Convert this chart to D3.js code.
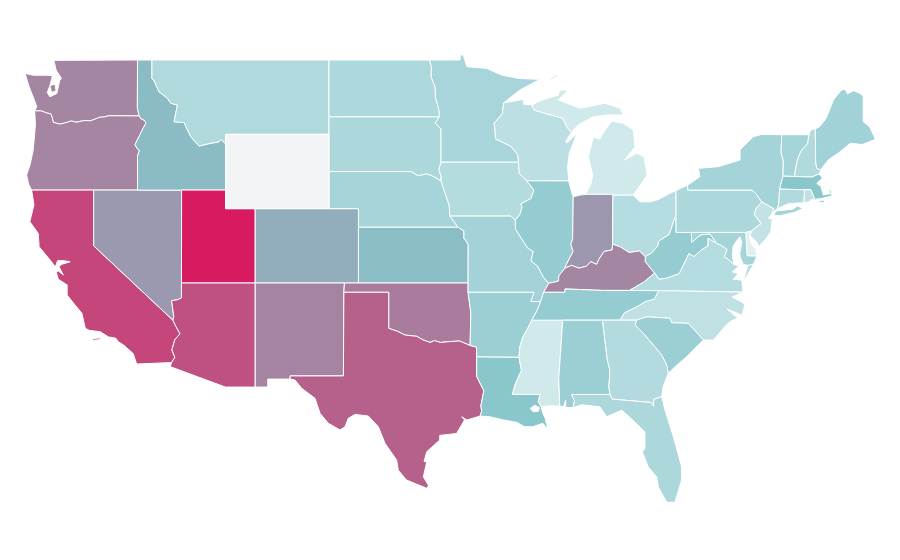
<!DOCTYPE html>
<html><head><meta charset="utf-8">
<script src="https://cdn.jsdelivr.net/npm/d3@7"></script>
<style>html,body{margin:0;background:#fff}svg{display:block}</style>
</head><body><svg id="map" width="900" height="560"></svg>
<script>
// Chart values
const stateNames=["Washington","Oregon","California","Nevada","Idaho","Utah","Arizona","Montana","Colorado","New Mexico","North Dakota","South Dakota","Nebraska","Kansas","Oklahoma","Texas","Minnesota","Iowa","Missouri","Arkansas","Louisiana","Wisconsin","Illinois","Mississippi","Michigan","Indiana","Kentucky","Tennessee","Alabama","Ohio","West Virginia","Virginia","North Carolina","South Carolina","Georgia","Florida","Pennsylvania","New York","Vermont","New Hampshire","Maine","Massachusetts","Connecticut","Rhode Island","New Jersey","Delaware","Maryland","Wyoming"];
const stateValues=[56,56.5,82.5,48,34,100,77.6,17.6,40,56.6,18.2,18.5,20.6,33.5,60,71.3,20,16.1,21.2,23.7,28.8,13.7,25.8,7.6,7.6,49,56,25.8,23.7,15.8,25.8,15.8,12.8,23.7,16.4,18.5,18.5,20.9,20.3,17.3,21.8,28.8,17,12.5,11.9,2.8,20.3,0];
const colorDomain=[0,1,30,100];
const colorRange=["#f3f4f6","#e6f4f5","#86c5cb","#d81b60"];
// Border lines in [longitude, latitude]
const borders={
wa_coast:[[-124,46.27],[-123.86,46.49],[-124.05,46.9],[-124.2,47.2],[-124.4,47.6],[-124.65,48.28],[-124.1,48.18],[-123.2,48.18],[-122.8,48.15],[-122.85,48],[-122.95,47.65],[-123.15,47.25],[-122.97,47.02],[-122.5,47.2],[-122.3,47.92],[-122.18,48],[-122.55,48.46],[-122.7,48.98]],
wa_kitsap:[[-122.98,47.62],[-122.62,47.7],[-122.55,47.35],[-122.85,47.25]],
wa_can:[[-122.7,48.98],[-117.03,49]],
wa_id:[[-117.03,49],[-117.04,46.42],[-116.92,45.99]],
wa_or:[[-116.92,45.99],[-119,46],[-119.3,45.93],[-119.6,45.92],[-120.2,45.73],[-120.65,45.74],[-121.2,45.65],[-121.5,45.72],[-122,45.6],[-122.3,45.55],[-122.75,45.65],[-122.8,45.87],[-122.9,46.1],[-123.2,46.15],[-123.5,46.25],[-124,46.27]],
or_coast:[[-124,46.27],[-123.95,45.5],[-124.1,44.16],[-124.3,43.4],[-124.55,42.8],[-124.4,42.3],[-124.21,42]],
or_id:[[-116.92,45.99],[-116.78,45.83],[-116.55,45.75],[-116.46,45.6],[-116.67,45.3],[-116.85,45],[-117.2,44.45],[-117.05,44.23],[-116.9,44.15],[-117.03,43.83],[-117.03,42]],
or_ca:[[-124.21,42],[-120,42]],
or_nv:[[-120,42],[-117.03,42]],
id_can:[[-117.03,49],[-116.05,49]],
id_mt:[[-116.05,49],[-116.05,48],[-115.93,47.92],[-115.58,47.3],[-115,46.94],[-114.77,46.67],[-114.32,46.58],[-114.44,46.13],[-114.55,45.68],[-113.87,45.63],[-113.42,44.87],[-112.85,44.37],[-112.3,44.48],[-111.5,44.6],[-111.35,44.73],[-111.05,44.48]],
id_wy:[[-111.05,44.48],[-111.05,42]],
id_ut:[[-111.05,42],[-114.04,42]],
id_nv:[[-114.04,42],[-117.03,42]],
ca_coast:[[-124.21,42],[-124.05,41.2],[-124.33,40.3],[-123.76,39.67],[-123.7,38.95],[-122.96,38.24],[-122.6,37.87],[-122.45,38.2],[-122,38.2],[-121.6,38.14],[-122.2,38],[-122.35,37.87],[-122.06,37.43],[-122.4,37.65],[-122.55,37.6],[-122.4,37.2],[-121.9,36.95],[-121.8,36.9],[-121.8,36.35],[-121.3,35.85],[-120.8,35.37],[-120.57,34.56],[-120.3,34.45],[-119.56,34.38],[-119,34.1],[-118.5,34.03],[-118.33,33.84],[-117.95,33.65],[-117.32,33.2],[-117.09,32.64]],
ca_mx:[[-117.09,32.64],[-114.72,32.72]],
ca_az:[[-114.72,32.72],[-114.5,33],[-114.7,33.4],[-114.5,33.95],[-114.15,34.27],[-114.45,34.7],[-114.63,35]],
ca_nv:[[-114.63,35],[-120,39],[-120,42]],
nv_az:[[-114.63,35],[-114.57,35.2],[-114.72,36.05],[-114.3,36.1],[-114.05,36.2],[-114.05,37]],
nv_ut:[[-114.05,37],[-114.04,42]],
ut_wy:[[-111.05,42],[-111.05,41],[-109.05,41]],
ut_co:[[-109.05,41],[-109.05,37]],
ut_az:[[-114.05,37],[-109.05,37]],
az_nm:[[-109.05,37],[-109.05,31.4]],
az_mx:[[-114.72,32.72],[-114.81,32.5],[-111.07,31.4],[-109.05,31.4]],
wy_mt:[[-111.05,44.48],[-111.05,45],[-104.05,45]],
wy_sd:[[-104.05,45],[-104.05,43]],
wy_ne:[[-104.05,43],[-104.05,41]],
wy_co:[[-109.05,41],[-104.05,41]],
co_ne:[[-104.05,41],[-102.05,41],[-102.05,40]],
co_ks:[[-102.05,40],[-102.05,37]],
co_ok:[[-102.05,37],[-103,37]],
co_nm:[[-103,37],[-109.05,37]],
mt_can:[[-116.05,49],[-104.05,49]],
mt_nd:[[-104.05,49],[-104.05,45.94]],
mt_sd:[[-104.05,45.94],[-104.05,45]],
nd_can:[[-104.05,49],[-97.23,49]],
nd_mn:[[-97.23,49],[-97.1,48.6],[-97.13,48.1],[-96.85,47.55],[-96.83,47],[-96.6,46.35],[-96.56,45.94]],
nd_sd:[[-104.05,45.94],[-96.56,45.94]],
sd_mn:[[-96.56,45.94],[-96.85,45.6],[-96.45,45.3],[-96.45,43.5]],
sd_ia:[[-96.45,43.5],[-96.6,43.1],[-96.45,42.75],[-96.45,42.49]],
sd_ne:[[-104.05,43],[-98.5,43],[-98,42.77],[-97.4,42.87],[-96.95,42.72],[-96.45,42.49]],
ne_ia:[[-96.45,42.49],[-96.25,42],[-96.1,41.65],[-95.9,41.2],[-95.85,40.6]],
ne_mo:[[-95.85,40.6],[-95.3,40]],
ne_ks:[[-102.05,40],[-95.3,40]],
ks_ok:[[-102.05,37],[-94.62,37]],
ks_mo:[[-95.3,40],[-94.9,39.8],[-94.9,39.4],[-94.61,39.1],[-94.62,37]],
nm_mx:[[-109.05,31.4],[-108.2,31.4],[-108.2,31.83],[-106.68,31.83]],
nm_tx:[[-106.68,31.83],[-106.68,32],[-103.07,32],[-103.04,36.5]],
nm_ok:[[-103.04,36.5],[-103,37]],
tx_coast:[[-106.68,31.83],[-106.35,31.78],[-105.9,31.33],[-105,30.8],[-104.65,29.98],[-104.09,29.45],[-103.3,29.09],[-102.96,29.26],[-102.74,29.72],[-102.28,29.93],[-101.38,29.84],[-100.7,29.26],[-100.25,28.37],[-99.46,27.47],[-99.35,26.93],[-98.8,26.4],[-97.42,25.95],[-97.3,26.1],[-97.65,26.57],[-97.42,27.38],[-97.6,27.4],[-97.42,27.92],[-96.54,28.55],[-96.54,28.8],[-95.4,28.9],[-94.86,29.63],[-95.05,29.8],[-94.7,29.63],[-93.8,29.84]],
tx_la:[[-93.8,29.84],[-93.7,30.1],[-93.75,30.4],[-93.55,31.2],[-94.04,31.99],[-94.04,33.02]],
tx_ar:[[-94.04,33.02],[-94.04,33.55],[-94.48,33.64]],
tx_ok:[[-94.48,33.64],[-95.2,33.88],[-95.8,33.85],[-96.5,33.8],[-96.9,33.9],[-97.2,33.8],[-97.7,33.95],[-98.1,34.13],[-98.9,34.2],[-99.4,34.4],[-100,34.56],[-100,36.5],[-103.04,36.5]],
ok_mo:[[-94.62,37],[-94.62,36.5]],
ok_ar:[[-94.62,36.5],[-94.43,35.4],[-94.48,33.64]],
mn_north:[[-97.23,49],[-95.15,49],[-95.15,49.27],[-94.95,49.27],[-94.7,48.64],[-93.36,48.55],[-92.34,48.19],[-91.1,48],[-89.74,47.96],[-91.1,47.39],[-92.2,46.7]],
mn_wi:[[-92.2,46.7],[-92.3,46.1],[-92.85,45.6],[-92.8,45.3],[-92.75,44.75],[-91.7,44.35],[-91.25,43.9],[-91.2,43.5]],
mn_ia:[[-96.45,43.5],[-91.2,43.5]],
ia_wi:[[-91.2,43.5],[-91.15,42.9],[-90.65,42.5]],
ia_il:[[-90.65,42.5],[-90.15,42],[-90.35,41.55],[-91.05,41.25],[-90.95,41.1],[-91.1,40.7],[-91.42,40.38]],
ia_mo:[[-95.85,40.6],[-91.72,40.6],[-91.42,40.38]],
wi_sup:[[-92.2,46.7],[-90.87,46.88],[-90.87,46.62],[-90.3,46.58]],
wi_mi:[[-90.3,46.58],[-90.12,46.3],[-88.2,45.86],[-87.86,45.32],[-87.6,45.14]],
wi_lake:[[-87.6,45.14],[-88,44.6],[-87.9,44.55],[-87.25,45.05],[-87.5,44.5],[-87.76,43.98],[-87.87,43.26],[-87.8,42.49]],
wi_il:[[-90.65,42.5],[-87.8,42.49]],
il_lake:[[-87.8,42.49],[-87.55,41.75],[-87.49,41.64]],
il_in:[[-87.49,41.64],[-87.53,39.35],[-87.65,39.1],[-87.5,38.7],[-87.95,38],[-88.05,37.8]],
il_ky:[[-88.05,37.8],[-88.45,37.4],[-88.5,37.1],[-89.15,36.98]],
il_mo:[[-89.15,36.98],[-89.5,37.3],[-89.9,37.9],[-90.35,38.2],[-90.2,38.7],[-90.6,38.9],[-91.4,39.9],[-91.42,40.38]],
mo_ky:[[-89.15,36.98],[-89.5,36.5]],
mo_tn:[[-89.5,36.5],[-89.7,36]],
mo_ar:[[-94.62,36.5],[-90.15,36.5],[-90.37,36],[-89.7,36]],
ar_tn:[[-89.7,36],[-89.95,35.5],[-90.3,35]],
ar_ms:[[-90.3,35],[-90.55,34.6],[-90.9,34.1],[-91.1,33.6],[-91.17,33]],
ar_la:[[-94.04,33.02],[-91.17,33]],
la_ms:[[-91.17,33],[-91,32.3],[-91.4,31.6],[-91.62,31],[-89.74,31],[-89.86,30.61],[-89.66,30.34]],
la_coast:[[-89.66,30.34],[-89.55,29.99],[-89.4,29.75],[-89.2,29.1],[-89.55,29.45],[-90.23,29.27],[-90.8,29.27],[-91.3,29.5],[-92.23,29.63],[-93.13,29.8],[-93.8,29.84]],
la_lake:[[-90.4,30.25],[-90.1,30.42],[-89.78,30.3],[-89.85,30.1],[-90.2,30.07]],
ms_coast:[[-88.4,30.37],[-89,30.4],[-89.66,30.34]],
ms_al:[[-88.4,30.37],[-88.47,31.9],[-88.2,35]],
ms_tn:[[-88.2,35],[-90.3,35]],
al_coast:[[-87.5,30.3],[-88,30.3],[-88,30.7],[-88.15,30.35],[-88.4,30.37]],
al_fl:[[-85,31],[-87.6,31],[-87.4,30.65],[-87.5,30.3]],
al_ga:[[-85,31],[-85.07,31.42],[-85,32.3],[-85.18,32.87],[-85.5,35]],
al_tn:[[-85.5,35],[-88.2,35]],
fl_coast:[[-87.5,30.3],[-86.92,30.45],[-85.68,30.34],[-85.22,29.8],[-84.2,30.16],[-83.42,29.6],[-82.63,28.99],[-82.63,28.09],[-82.8,27.92],[-82.4,27.1],[-81.83,26.57],[-81.72,26.03],[-81.15,25.2],[-80.6,25.2],[-80.14,26.4],[-80.14,27.1],[-80.7,28.73],[-81.27,30.16],[-81.49,30.88]],
fl_ga:[[-85,31],[-84.84,30.75],[-82.2,30.57],[-82.05,30.37],[-82.02,30.75],[-81.49,30.88]],
ga_coast:[[-81.49,30.88],[-81.39,31.42],[-81.05,32.14]],
ga_sc:[[-81.05,32.14],[-81.15,32.58],[-81.49,33.12],[-82.06,33.66],[-82.74,34.29],[-83.3,34.74],[-83.19,35]],
ga_nc:[[-83.19,35],[-84.32,35]],
ga_tn:[[-84.32,35],[-85.5,35]],
sc_coast:[[-78.66,33.93],[-79.25,33.48],[-79.8,33.03],[-80.47,32.58],[-81.05,32.14]],
sc_nc:[[-78.66,33.93],[-79.69,34.83],[-80.82,34.86],[-80.93,35.1],[-82.5,35.18],[-83.19,35]],
nc_coast:[[-75.98,36.51],[-76.72,36.24],[-76.05,35.98],[-75.85,35.82],[-76.05,35.27],[-77.07,35.6],[-76.32,35.11],[-76.8,34.95],[-77.12,34.74],[-77.98,33.93],[-78.66,33.93]],
nc_va:[[-81.68,36.59],[-75.98,36.51]],
nc_tn:[[-81.68,36.59],[-82,36.12],[-82.6,36],[-83.1,35.75],[-84,35.4],[-84.32,35]],
tn_va:[[-83.68,36.6],[-81.68,36.59]],
tn_ky:[[-83.68,36.6],[-85.5,36.6],[-88.05,36.68],[-88.05,36.5],[-89.5,36.5]],
ky_va:[[-81.97,37.54],[-82.7,37.05],[-83.68,36.6]],
ky_wv:[[-82.6,38.42],[-82.6,38.15],[-82,37.55],[-81.97,37.54]],
ky_oh:[[-84.82,39.1],[-84.3,38.95],[-83.7,38.65],[-83,38.73],[-82.6,38.42]],
ky_in:[[-88.05,37.8],[-87.6,37.95],[-87.1,37.8],[-86.6,37.9],[-86.3,38.15],[-85.9,38],[-85.75,38.27],[-85.4,38.7],[-84.85,38.78],[-84.82,39.1]],
in_oh:[[-84.82,39.1],[-84.8,41.72]],
in_mi:[[-86.65,41.77],[-84.8,41.77],[-84.8,41.72]],
in_lake:[[-87.49,41.64],[-87.03,41.73],[-86.65,41.77]],
oh_mi:[[-84.8,41.72],[-83.42,41.73]],
oh_lake:[[-83.42,41.73],[-82.96,41.37],[-82.28,41.37],[-81.7,41.5],[-81,41.8],[-80.52,41.98]],
oh_pa:[[-80.52,41.98],[-80.52,40.64]],
oh_wv:[[-82.6,38.42],[-82.2,38.6],[-81.75,39],[-81.7,39.25],[-81,39.6],[-80.85,39.9],[-80.65,40.4],[-80.52,40.64]],
wv_pa:[[-80.52,40.64],[-80.52,39.72],[-79.48,39.72]],
wv_md:[[-79.48,39.72],[-79.46,39.19],[-79.05,39.47],[-78.8,39.6],[-78.2,39.63],[-77.77,39.13]],
wv_va:[[-77.77,39.13],[-78.35,39.4],[-78.35,39],[-78.85,38.75],[-79.3,38.42],[-79.65,38.58],[-80.3,37.5],[-81.2,37.25],[-81.68,37.2],[-81.97,37.54]],
va_coast:[[-75.98,36.51],[-76.07,37.16],[-76.64,37.2],[-76.3,37.5],[-76.7,37.6],[-76.25,37.9],[-76.6,38]],
va_md:[[-76.6,38],[-77,38.3],[-77.25,38.4],[-77.05,38.8],[-77.5,39.05],[-77.77,39.13]],
md_pa:[[-79.48,39.72],[-75.79,39.72]],
md_de:[[-75.79,39.72],[-75.7,38.46],[-75.05,38.45]],
md_coast:[[-75.05,38.45],[-75.24,38.03]],
md_shore:[[-75.24,38.03],[-75.65,37.95]],
md_bay:[[-75.65,37.95],[-75.95,38],[-76.15,38.35],[-76.2,38.6],[-76.06,39.2],[-76.19,39.49],[-76.52,39.15],[-76.65,38.95],[-76.7,38.5],[-76.6,38]],
va_east:[[-75.65,37.95],[-75.95,37.15],[-75.75,37.35],[-75.24,38.03]],
de_coast:[[-75.05,38.45],[-75.1,38.8],[-75.4,39.1],[-75.55,39.5],[-75.4,39.8]],
de_pa:[[-75.4,39.8],[-75.79,39.72]],
pa_nj:[[-74.7,41.36],[-75.13,40.97],[-75.2,40.68],[-74.75,40.2],[-75.4,39.8]],
pa_ny:[[-79.73,42.27],[-79.73,42],[-75.35,42],[-75.05,41.75],[-74.7,41.36]],
pa_lake:[[-80.52,41.98],[-79.73,42.27]],
nj_ny:[[-74.7,41.36],[-73.9,41],[-74.05,40.7]],
nj_coast:[[-74.05,40.7],[-74.25,40.48],[-74,40.45],[-74.1,39.75],[-74.4,39.4],[-74.9,38.95],[-75.05,39.2],[-75.5,39.55],[-75.4,39.8]],
ny_north:[[-79.73,42.27],[-78.9,42.72],[-79,43.17],[-77.65,43.26],[-76.18,43.62],[-76.18,44.16],[-75.28,44.87],[-74.7,45],[-73.35,44.98]],
ny_vt:[[-73.35,44.98],[-73.4,44],[-73.25,43.6],[-73.27,42.75]],
ny_ma:[[-73.27,42.75],[-73.5,42.05]],
ny_ct:[[-73.5,42.05],[-73.55,41.3],[-73.65,41]],
ny_coast:[[-73.65,41],[-73.9,40.85],[-74.05,40.7]],
long_island:[[-73.93,40.66],[-73.7,40.88],[-72.6,40.97],[-72.3,41.15],[-71.9,41.02],[-72.5,40.8],[-73.5,40.62]],
vt_can:[[-73.35,44.98],[-71.5,44.98]],
vt_nh:[[-71.5,44.98],[-71.6,44.5],[-72.05,44.1],[-72.3,43.6],[-72.45,43],[-72.46,42.73]],
vt_ma:[[-73.27,42.75],[-72.46,42.73]],
nh_ma:[[-72.46,42.73],[-71.3,42.7],[-70.82,42.87]],
nh_can:[[-71.5,44.98],[-71.4,45.23],[-71.08,45.3]],
nh_me:[[-71.08,45.3],[-71.05,43.5],[-70.98,43.17],[-70.7,43.07]],
nh_coast:[[-70.7,43.07],[-70.82,42.87]],
me_out:[[-71.08,45.3],[-70.8,45.4],[-70.4,45.8],[-70.2,46.13],[-69.85,46.85],[-69.3,47.39],[-69.05,47.43],[-68.9,47.18],[-68.47,47.35],[-68.03,47.2],[-67.83,47.05],[-67.83,45.68],[-67.4,45.41],[-67,44.73],[-67.9,44.45],[-68.7,44.52],[-69.4,44.06],[-70.2,43.62],[-70.65,43.17],[-70.7,43.07]],
ma_ct:[[-73.5,42.05],[-71.8,42.02]],
ma_ri:[[-71.8,42.02],[-71.38,42.02],[-71.2,41.67],[-71.13,41.5]],
ma_coast:[[-71.13,41.5],[-70.65,41.55],[-70.08,41.66],[-69.95,41.7],[-70,41.95],[-70.2,42.08],[-70.05,41.8],[-70.53,41.74],[-70.7,42.2],[-70.98,42.36],[-70.6,42.65],[-70.82,42.87]],
ma_isle:[[-70.85,41.4],[-70.5,41.47],[-70.45,41.35],[-70.8,41.33]],
ct_ri:[[-71.85,41.32],[-71.8,42.02]],
ct_coast:[[-73.65,41],[-72.9,41.27],[-71.85,41.32]],
ri_coast:[[-71.85,41.32],[-71.5,41.37],[-71.4,41.47],[-71.13,41.5]],
mi_upper:[[-90.3,46.58],[-89.6,46.85],[-88.5,47.1],[-88.4,47.38],[-87.82,47.38],[-88.5,46.85],[-87.03,46.4],[-85.33,46.67],[-84.3,46.4],[-84.1,46.04],[-85.22,46.04],[-86.13,45.95],[-87.15,45.5],[-87.6,45.14]],
mi_lower:[[-86.65,41.77],[-86.3,42.3],[-86.17,42.81],[-86.47,43.8],[-86.13,44.84],[-85.7,44.75],[-85.33,45.23],[-84.88,45.71],[-84.1,45.6],[-83.42,45.23],[-83.3,44.33],[-84,43.62],[-83.18,43.98],[-82.7,43.8],[-82.47,42.81],[-83.18,42],[-83.42,41.73]],
mi_isle:[[-89.2,47.85],[-88.45,48.17],[-88.65,48.2],[-89.1,47.98]],
ca_isle:[[-120.1,34],[-119.55,34.05],[-119.6,33.95],[-120.05,33.92]]
};
// Each state: list of polygons, each polygon a list of rings, each ring a chain of border names
const stateBorders={
"Washington":[[["wa_coast","wa_can","wa_id","wa_or"]],[["wa_kitsap"]]],
"Oregon":[[["or_coast","or_ca","or_nv","or_id","wa_or"]]],
"California":[[["ca_coast","ca_mx","ca_az","ca_nv","or_ca"]],[["ca_isle"]]],
"Nevada":[[["ca_nv","or_nv","id_nv","nv_ut","nv_az"]]],
"Idaho":[[["wa_id","id_can","id_mt","id_wy","id_ut","id_nv","or_id"]]],
"Utah":[[["id_ut","ut_wy","ut_co","ut_az","nv_ut"]]],
"Arizona":[[["ca_az","nv_az","ut_az","az_nm","az_mx"]]],
"Montana":[[["id_mt","mt_can","mt_nd","mt_sd","wy_mt"]]],
"Wyoming":[[["id_wy","wy_mt","wy_sd","wy_ne","wy_co","ut_wy"]]],
"Colorado":[[["wy_co","co_ne","co_ks","co_ok","co_nm","ut_co"]]],
"New Mexico":[[["co_nm","nm_ok","nm_tx","nm_mx","az_nm"]]],
"North Dakota":[[["mt_nd","nd_can","nd_mn","nd_sd"]]],
"South Dakota":[[["mt_sd","nd_sd","sd_mn","sd_ia","sd_ne","wy_sd"]]],
"Nebraska":[[["wy_ne","sd_ne","ne_ia","ne_mo","ne_ks","co_ne"]]],
"Kansas":[[["ne_ks","ks_mo","ks_ok","co_ks"]]],
"Oklahoma":[[["co_ok","ks_ok","ok_mo","ok_ar","tx_ok","nm_ok"]]],
"Texas":[[["nm_tx","tx_ok","tx_ar","tx_la","tx_coast"]]],
"Minnesota":[[["nd_mn","mn_north","mn_wi","mn_ia","sd_mn"]]],
"Iowa":[[["mn_ia","ia_wi","ia_il","ia_mo","ne_ia","sd_ia"]]],
"Missouri":[[["ia_mo","il_mo","mo_ky","mo_tn","mo_ar","ok_mo","ks_mo","ne_mo"]]],
"Arkansas":[[["mo_ar","ar_tn","ar_ms","ar_la","tx_ar","ok_ar"]]],
"Louisiana":[[["ar_la","la_ms","la_coast","tx_la"],["la_lake"]]],
"Wisconsin":[[["mn_wi","wi_sup","wi_mi","wi_lake","wi_il","ia_wi"]]],
"Illinois":[[["wi_il","il_lake","il_in","il_ky","il_mo","ia_il"]]],
"Mississippi":[[["ar_ms","ms_tn","ms_al","ms_coast","la_ms"]]],
"Michigan":[[["wi_mi","mi_upper"]],[["in_mi","mi_lower","oh_mi"]],[["mi_isle"]]],
"Indiana":[[["il_in","in_lake","in_mi","in_oh","ky_in"]]],
"Kentucky":[[["ky_in","ky_oh","ky_wv","ky_va","tn_ky","mo_ky","il_ky"]]],
"Tennessee":[[["tn_ky","tn_va","nc_tn","ga_tn","al_tn","ms_tn","ar_tn","mo_tn"]]],
"Alabama":[[["al_tn","al_ga","al_fl","al_coast","ms_al"]]],
"Ohio":[[["in_oh","oh_mi","oh_lake","oh_pa","oh_wv","ky_oh"]]],
"West Virginia":[[["oh_wv","wv_pa","wv_md","wv_va","ky_wv"]]],
"Virginia":[[["wv_va","va_md","va_coast","nc_va","tn_va","ky_va"]],[["va_east","md_shore"]]],
"North Carolina":[[["nc_va","nc_coast","sc_nc","ga_nc","nc_tn"]]],
"South Carolina":[[["sc_nc","sc_coast","ga_sc"]]],
"Georgia":[[["ga_nc","ga_sc","ga_coast","fl_ga","al_ga","ga_tn"]]],
"Florida":[[["al_fl","fl_ga","fl_coast"]]],
"Pennsylvania":[[["pa_lake","pa_ny","pa_nj","de_pa","md_pa","wv_pa","oh_pa"]]],
"New York":[[["pa_ny","ny_north","ny_vt","ny_ma","ny_ct","ny_coast","nj_ny"]],[["long_island"]]],
"Vermont":[[["vt_can","vt_nh","vt_ma","ny_vt"]]],
"New Hampshire":[[["nh_can","nh_me","nh_coast","nh_ma","vt_nh"]]],
"Maine":[[["me_out","nh_me"]]],
"Massachusetts":[[["ma_ct","ma_ri","ma_coast","nh_ma","vt_ma","ny_ma"]],[["ma_isle"]]],
"Connecticut":[[["ny_ct","ma_ct","ct_ri","ct_coast"]]],
"Rhode Island":[[["ct_ri","ma_ri","ri_coast"]]],
"New Jersey":[[["nj_ny","nj_coast","pa_nj"]]],
"Delaware":[[["de_pa","md_de","de_coast"]]],
"Maryland":[[["md_pa","md_de","md_coast","md_shore","md_bay","va_md","wv_md"]]]
};
function chain(names){
  const d=(a,b)=>Math.hypot(a[0]-b[0],a[1]-b[1]);
  const lines=names.map(n=>borders[n]);
  let ring=lines[0].slice();
  if(lines.length>1){
    const n=lines[1],e=ring[ring.length-1],s=ring[0];
    if(Math.min(d(s,n[0]),d(s,n[n.length-1]))<Math.min(d(e,n[0]),d(e,n[n.length-1]))) ring.reverse();
  }
  lines.slice(1).forEach(l=>{
    const e=ring[ring.length-1];
    const o=d(e,l[0])<=d(e,l[l.length-1])?l:l.slice().reverse();
    ring=ring.concat(o.slice(1));
  });
  if(d(ring[0],ring[ring.length-1])>0) ring.push(ring[0]);
  return ring;
}
const x=d3.scaleLinear().domain([-120,-104]).range([93.7,329.7]);
const y=d3.scaleLinear().domain([49,37]).range([60,283]);
const color=d3.scaleLinear().domain(colorDomain).range(colorRange);
const path=d3.geoPath(d3.geoTransform({point(lon,lat){this.stream.point(x(lon),y(lat));}}));
const features=stateNames.map((name,i)=>({type:"Feature",properties:{name,value:stateValues[i]},geometry:{type:"MultiPolygon",coordinates:stateBorders[name].map(poly=>poly.map(chain))}}));
d3.select("#map").append("g").selectAll("path").data(features).join("path")
  .attr("d",path).attr("fill",d=>color(d.properties.value)).attr("fill-rule","evenodd")
  .attr("stroke","#fff").attr("stroke-width",1).attr("stroke-linejoin","round");
</script></body></html>
